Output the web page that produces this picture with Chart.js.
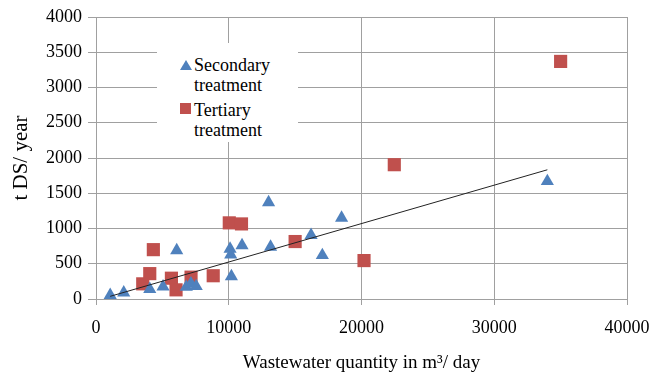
<!DOCTYPE html>
<html>
<head>
<meta charset="utf-8">
<script src="https://cdn.jsdelivr.net/npm/chart.js@4.4.1/dist/chart.umd.min.js"></script>
<style>
  html, body { margin: 0; padding: 0; background: #fff; }
  #wrap { position: relative; width: 666px; height: 378px; }
  #legend {
    position: absolute; left: 157px; top: 43px; width: 141px; height: 99px;
    background: #fff; font-family: 'Liberation Serif', 'Times New Roman', serif;
    font-size: 18px; color: #000;
  }
  .item { position: absolute; left: 37px; width: 104px; line-height: 20px; }
  .mark { position: absolute; }
  .tri {
    width: 0; height: 0; border-left: 6px solid transparent; border-right: 6px solid transparent;
    border-bottom: 10px solid #4F81BD;
  }
  .sq { width: 11px; height: 11px; background: #C0504D; }
</style>
</head>
<body>
<div id="wrap">
  <canvas id="scatterChart" width="666" height="378"></canvas>
  <div id="legend"></div>
</div>
<script>
// series data (m3/day, t DS/year)
const seriesNames = ['Secondary treatment', 'Tertiary treatment'];

const secondaryX = [1070, 2090, 4050, 5050, 6080, 6800, 7150, 7550, 10100, 10150, 10200, 11000, 13000, 13150, 16200, 17050, 18500, 34000];
const secondaryY = [55, 90, 140, 175, 690, 170, 220, 180, 710, 630, 320, 760, 1370, 740, 905, 620, 1150, 1670];

const tertiaryX = [3520, 4050, 4320, 5680, 6030, 7160, 8830, 10040, 10960, 15000, 20190, 22470, 35000];
const tertiaryY = [215, 360, 700, 295, 130, 310, 330, 1080, 1065, 815, 545, 1905, 3370];

// linear trend line (secondary), end points
const trendX = [1070, 34000];
const trendY = [38, 1833];

const xTicks = [0, 10000, 20000, 30000, 40000];
const yTicks = [0, 500, 1000, 1500, 2000, 2500, 3000, 3500, 4000];

const toPoints = (xs, ys) => xs.map((x, i) => ({ x: x, y: ys[i] }));

const serif = "'Liberation Serif', 'Times New Roman', serif";
const gridColor = '#a0a0a0';

Chart.defaults.font.family = serif;
Chart.defaults.color = '#000';

const ctx = document.getElementById('scatterChart');
const chart = new Chart(ctx, {
  type: 'scatter',
  data: {
    datasets: [
      {
        label: seriesNames[0],
        data: toPoints(secondaryX, secondaryY),
        pointStyle: 'triangle',
        pointRadius: 7.6,
        backgroundColor: '#4F81BD',
        borderColor: '#4F81BD',
        borderWidth: 0,
        order: 1
      },
      {
        label: seriesNames[1],
        data: toPoints(tertiaryX, tertiaryY),
        pointStyle: 'rect',
        pointRadius: 9.3,
        backgroundColor: '#C0504D',
        borderColor: '#C0504D',
        borderWidth: 0,
        order: 2
      },
      {
        label: 'trend',
        type: 'line',
        data: toPoints(trendX, trendY),
        borderColor: '#222',
        borderWidth: 1,
        pointRadius: 0,
        fill: false,
        order: 0
      }
    ]
  },
  options: {
    responsive: false,
    animation: false,
    devicePixelRatio: 1,
    layout: { padding: { top: 17, right: 39, left: 0, bottom: 0 } },
    plugins: {
      legend: { display: false },
      tooltip: { enabled: false }
    },
    scales: {
      x: {
        type: 'linear',
        min: 0,
        max: 40000,
        afterBuildTicks: (scale) => { scale.ticks = xTicks.map(v => ({ value: v })); },
        afterFit: (scale) => { scale.height = 79; },
        grid: { color: gridColor, tickLength: 6 },
        border: { color: gridColor },
        ticks: {
          color: '#000', padding: 12, maxRotation: 0,
          font: { family: serif, size: 18 },
          callback: (v) => String(v)
        },
        title: {
          display: true,
          text: 'Wastewater quantity in m³/ day',
          color: '#000',
          font: { family: serif, size: 19 },
          padding: { top: 0, bottom: 4 }
        }
      },
      y: {
        min: 0,
        max: 4000,
        afterBuildTicks: (scale) => { scale.ticks = yTicks.map(v => ({ value: v })); },
        afterFit: (scale) => { scale.width = 96; },
        grid: { color: gridColor, tickLength: 8 },
        border: { color: gridColor },
        ticks: {
          color: '#000', padding: 6,
          font: { family: serif, size: 18 },
          callback: (v) => String(v)
        },
        title: {
          display: true,
          text: 't DS/ year',
          color: '#000',
          font: { family: serif, size: 21 },
          padding: { top: 9, bottom: 0 }
        }
      }
    }
  }
});

// legend box inside the plot, like the original
const legend = document.getElementById('legend');
const legendTop = [12, 57];
const legendMark = ['tri', 'sq'];
const legendMarkTop = [17, 60];
seriesNames.forEach((name, i) => {
  const m = document.createElement('div');
  m.className = 'mark ' + legendMark[i];
  m.style.left = '23px';
  m.style.top = legendMarkTop[i] + 'px';
  legend.appendChild(m);
  const t = document.createElement('div');
  t.className = 'item';
  t.style.top = legendTop[i] + 'px';
  t.textContent = name;
  legend.appendChild(t);
});
</script>
</body>
</html>
